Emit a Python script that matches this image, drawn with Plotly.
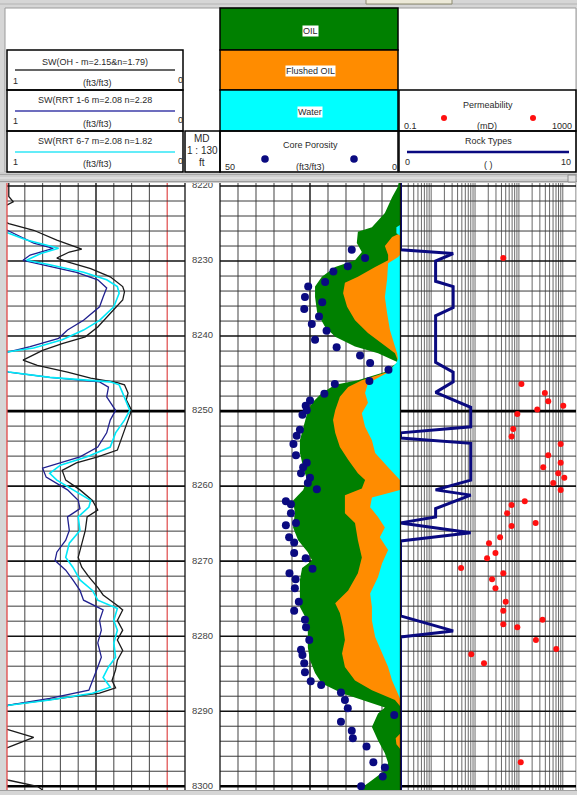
import plotly.graph_objects as go

W, H = 577, 795
DEPTH_TOP, DEPTH_BASE = 8219.6, 8300.5
FONT = "Liberation Sans, Arial, sans-serif"

# ---------------- Track 1: water saturation (ft3/ft3) ----------------
sw_oh_depth = [8219.6, 8221.4, 8222.1, 8222.9, 8224.6, 8225.0, 8225.9, 8227.2, 8228.4, 8228.8,
               8229.6, 8230.1, 8231.0, 8232.1, 8233.4, 8234.1, 8235.2, 8237.0, 8238.8, 8240.1,
               8241.0, 8241.9, 8243.2, 8243.9, 8244.8, 8245.6, 8246.2, 8246.5, 8247.6, 8248.5,
               8249.9, 8251.2, 8252.5, 8254.3, 8255.2, 8256.1, 8256.9, 8257.9, 8259.2, 8260.5,
               8261.9, 8263.2, 8264.1, 8265.9, 8267.6, 8269.5, 8270.8, 8272.1, 8273.5, 8274.5,
               8275.9, 8276.5, 8277.9, 8279.2, 8280.5, 8281.9, 8283.2, 8284.5, 8285.9, 8286.9,
               8287.6, 8288.5, 8289.2, 8289.5, 8292.2, 8292.5, 8293.5, 8294.8, 8295.1, 8298.9,
               8299.2, 8300.0, 8300.5]
sw_oh = [0.99, 0.99, 0.965, 1.03, 1.03, 0.99, 0.85, 0.72, 0.58, 0.65,
         0.72, 0.66, 0.53, 0.42, 0.35, 0.34, 0.35, 0.42, 0.49, 0.56,
         0.69, 0.80, 0.91, 0.83, 0.66, 0.53, 0.38, 0.34, 0.32, 0.33,
         0.30, 0.32, 0.34, 0.37, 0.38, 0.49, 0.61, 0.69, 0.67, 0.59,
         0.52, 0.49, 0.55, 0.56, 0.58, 0.60, 0.58, 0.54, 0.49, 0.46,
         0.38, 0.35, 0.38, 0.35, 0.38, 0.35, 0.38, 0.39, 0.41, 0.39,
         0.48, 0.76, 0.99, 1.03, 1.03, 0.99, 0.85, 0.99, 1.03, 1.03,
         0.99, 0.83, 0.80]

sw_rrt16_depth = [8219.6, 8225.6, 8226.0, 8227.6, 8228.3, 8229.2, 8229.9, 8230.5, 8231.5, 8232.5,
                  8233.6, 8234.8, 8236.1, 8237.9, 8239.2, 8240.3, 8241.4, 8242.1, 8242.4, 8244.5,
                  8244.8, 8245.5, 8246.1, 8246.8, 8248.1, 8249.9, 8251.2, 8252.9, 8254.8, 8256.1,
                  8256.9, 8257.6, 8258.8, 8260.5, 8261.9, 8263.0, 8264.1, 8265.9, 8267.2, 8268.8,
                  8269.9, 8271.2, 8272.5, 8273.9, 8275.2, 8276.1, 8276.5, 8277.9, 8279.2, 8280.9,
                  8282.8, 8284.1, 8285.9, 8287.2, 8288.3, 8289.2, 8289.5, 8300.5]
sw_rrt16 = [1.03, 1.03, 0.99, 0.85, 0.74, 0.87, 0.91, 0.80, 0.61, 0.49,
            0.44, 0.46, 0.48, 0.57, 0.66, 0.71, 0.87, 0.99, 1.03, 1.03,
            0.99, 0.76, 0.48, 0.43, 0.44, 0.39, 0.42, 0.44, 0.49, 0.59,
            0.70, 0.80, 0.78, 0.66, 0.60, 0.59, 0.66, 0.65, 0.67, 0.72,
            0.73, 0.67, 0.63, 0.59, 0.57, 0.49, 0.46, 0.48, 0.47, 0.49,
            0.47, 0.49, 0.52, 0.54, 0.76, 0.99, 1.03, 1.03]

sw_rrt67_depth = [8219.6, 8226.0, 8226.3, 8227.2, 8228.3, 8229.0, 8229.9, 8230.5, 8231.5, 8232.5,
                  8233.4, 8234.3, 8236.1, 8237.9, 8239.2, 8240.5, 8241.6, 8242.1, 8242.4, 8244.5,
                  8244.8, 8245.5, 8246.1, 8246.5, 8247.6, 8249.9, 8251.2, 8252.9, 8254.8, 8256.1,
                  8257.2, 8258.3, 8259.2, 8260.5, 8261.9, 8262.8, 8264.1, 8265.9, 8267.6, 8269.5,
                  8270.8, 8272.5, 8273.9, 8275.2, 8276.3, 8277.9, 8279.2, 8280.9, 8282.8, 8284.1,
                  8285.5, 8286.8, 8287.6, 8288.5, 8289.2, 8289.5, 8300.5]
sw_rrt67 = [1.03, 1.03, 0.99, 0.89, 0.71, 0.81, 0.89, 0.76, 0.57, 0.44,
            0.38, 0.37, 0.40, 0.48, 0.57, 0.69, 0.85, 0.99, 1.03, 1.03,
            0.99, 0.76, 0.42, 0.37, 0.35, 0.31, 0.34, 0.39, 0.42, 0.55,
            0.70, 0.76, 0.72, 0.63, 0.53, 0.54, 0.60, 0.59, 0.65, 0.67,
            0.63, 0.59, 0.52, 0.49, 0.38, 0.40, 0.38, 0.40, 0.39, 0.43,
            0.46, 0.42, 0.52, 0.76, 0.99, 1.03, 1.03]

# ---------------- Track 3: fluid volumes and core porosity ----------------
phie_depth = [8219.6, 8220.1, 8221.5, 8222.8, 8223.6, 8225.5, 8226.1, 8227.6, 8228.8, 8229.9,
              8230.8, 8232.1, 8233.4, 8234.8, 8236.9, 8238.8, 8240.1, 8241.4, 8242.3, 8243.5,
              8244.8, 8245.9, 8246.5, 8247.6, 8248.9, 8250.3, 8252.1, 8253.9, 8255.6, 8257.5,
              8259.2, 8260.5, 8261.9, 8263.6, 8265.5, 8267.2, 8268.8, 8269.9, 8270.9, 8272.5,
              8274.3, 8276.1, 8277.9, 8279.6, 8281.5, 8283.2, 8284.9, 8286.3, 8287.6, 8288.8,
              8289.5, 8290.3, 8292.1, 8293.9, 8295.6, 8296.9, 8297.9, 8299.2, 8300.5]
phie = [0.004, 0.006, 0.022, 0.033, 0.042, 0.078, 0.117, 0.120, 0.106, 0.125,
        0.180, 0.217, 0.236, 0.236, 0.230, 0.208, 0.180, 0.125, 0.061, 0.006,
        0.042, 0.117, 0.180, 0.217, 0.244, 0.258, 0.269, 0.278, 0.278, 0.269,
        0.258, 0.269, 0.297, 0.292, 0.297, 0.283, 0.256, 0.244, 0.272, 0.278,
        0.278, 0.278, 0.258, 0.256, 0.256, 0.250, 0.236, 0.217, 0.161, 0.089,
        0.042, 0.061, 0.078, 0.061, 0.042, 0.033, 0.042, 0.078, 0.115]

bvxo_depth = [8219.6, 8226.3, 8226.8, 8228.0, 8229.2, 8229.9, 8230.8, 8232.1, 8232.9, 8234.3,
              8236.1, 8237.9, 8239.6, 8241.0, 8242.3, 8243.5, 8244.8, 8245.9, 8246.8, 8248.1,
              8249.9, 8251.2, 8252.9, 8254.8, 8256.5, 8258.3, 8259.2, 8260.3, 8261.2, 8263.6,
              8264.9, 8267.2, 8269.5, 8271.6, 8273.9, 8275.6, 8276.9, 8278.8, 8280.5, 8282.3,
              8284.1, 8285.9, 8287.2, 8288.5, 8289.3, 8293.0, 8293.6, 8294.4, 8295.0, 8300.5]
bvxo = [0.0, 0.0, 0.022, 0.042, 0.033, 0.033, 0.069, 0.117, 0.153, 0.158,
        0.147, 0.125, 0.089, 0.050, 0.014, 0.004, 0.035, 0.106, 0.144, 0.167,
        0.180, 0.186, 0.180, 0.167, 0.144, 0.117, 0.097, 0.106, 0.153, 0.153,
        0.125, 0.117, 0.106, 0.117, 0.144, 0.180, 0.167, 0.158, 0.153, 0.161,
        0.153, 0.125, 0.078, 0.014, 0.0, 0.0, 0.012, 0.010, 0.0, 0.0]

bvw_depth = [8219.6, 8225.2, 8225.5, 8226.3, 8226.6, 8229.2, 8229.5, 8230.3, 8232.5, 8234.8,
             8236.9, 8239.2, 8241.4, 8242.3, 8243.0, 8243.6, 8244.9, 8246.3, 8247.6, 8248.9,
             8250.3, 8252.1, 8253.9, 8255.6, 8257.5, 8258.8, 8259.2, 8260.5, 8261.5, 8262.8,
             8264.1, 8265.5, 8266.8, 8268.5, 8270.3, 8272.1, 8274.3, 8276.1, 8277.9, 8280.1,
             8282.3, 8284.1, 8285.9, 8287.6, 8288.3, 8300.5]
bvw = [0.0, 0.0, 0.010, 0.010, 0.0, 0.0, 0.006, 0.033, 0.036, 0.042,
       0.036, 0.028, 0.014, 0.008, 0.006, 0.010, 0.035, 0.089, 0.097, 0.089,
       0.106, 0.097, 0.078, 0.069, 0.033, 0.006, 0.0, 0.0, 0.078, 0.083,
       0.061, 0.042, 0.056, 0.033, 0.050, 0.061, 0.083, 0.078, 0.078, 0.069,
       0.050, 0.033, 0.022, 0.006, 0.0, 0.0]

core_depth = [8228.5, 8229.6, 8230.7, 8231.4, 8232.8, 8233.4, 8234.8, 8235.5, 8236.4, 8237.4,
              8238.4, 8239.3, 8240.5, 8241.5, 8242.6, 8243.6, 8244.5, 8246.0, 8246.4, 8247.7,
              8248.6, 8249.3, 8249.9, 8250.5, 8252.5, 8253.3, 8254.4, 8255.9, 8256.9, 8257.5,
              8258.3, 8258.9, 8259.6, 8260.4, 8262.0, 8262.4, 8263.6, 8264.9, 8265.2, 8266.8,
              8267.5, 8268.9, 8269.6, 8271.0, 8271.6, 8272.4, 8273.6, 8275.4, 8276.6, 8277.8,
              8278.8, 8280.5, 8281.8, 8282.5, 8283.6, 8284.8, 8286.0, 8286.5, 8287.5, 8288.5,
              8289.6, 8290.5, 8291.4, 8292.6, 8293.6, 8294.7, 8296.8, 8297.5, 8298.7, 8300.0]
core_phi = [0.134, 0.097, 0.145, 0.185, 0.208, 0.255, 0.264, 0.216, 0.266, 0.225,
            0.245, 0.204, 0.236, 0.176, 0.111, 0.083, 0.032, 0.085, 0.181, 0.210,
            0.250, 0.262, 0.259, 0.271, 0.278, 0.287, 0.296, 0.289, 0.259, 0.269,
            0.275, 0.250, 0.256, 0.231, 0.317, 0.303, 0.303, 0.289, 0.317, 0.308,
            0.294, 0.294, 0.262, 0.243, 0.307, 0.290, 0.292, 0.281, 0.294, 0.264,
            0.261, 0.252, 0.275, 0.271, 0.266, 0.264, 0.248, 0.219, 0.164, 0.153,
            0.145, 0.016, 0.164, 0.134, 0.131, 0.093, 0.074, 0.042, 0.048, 0.108]

# ---------------- Track 4: permeability and rock types ----------------
perm_depth = [8229.6, 8246.4, 8247.6, 8248.7, 8249.3, 8249.8, 8250.4, 8252.4, 8253.4, 8254.4,
              8255.9, 8256.9, 8257.5, 8258.3, 8258.9, 8259.6, 8260.5, 8262.0, 8262.5, 8263.6,
              8264.9, 8265.3, 8266.8, 8267.6, 8268.9, 8269.6, 8270.9, 8271.6, 8272.4, 8273.6,
              8275.4, 8276.6, 8277.8, 8278.4, 8278.8, 8280.5, 8281.7, 8282.4, 8283.6, 8296.8]
perm_md = [22, 57, 195, 233, 513, 131, 46, 37, 34, 447,
           233, 447, 179, 394, 541, 303, 447, 68, 34, 27,
           120, 34, 18.6, 10.4, 14.6, 9.4, 2.4, 22, 12.2, 14.6,
           25, 22, 173, 22, 46, 122, 355, 4.1, 8.0, 55]

rock_depth = [8219.6, 8228.5, 8229.0, 8230.0, 8232.7, 8233.4, 8236.2, 8237.3, 8243.5, 8244.8,
              8246.1, 8247.5, 8249.5, 8252.1, 8252.9, 8253.6, 8254.3, 8259.2, 8260.5, 8261.2,
              8263.0, 8264.1, 8264.9, 8266.2, 8267.3, 8277.3, 8279.3, 8280.1, 8300.5]
rock_type = [0, 0, 3, 2, 2, 3, 3, 2, 2, 3,
             3, 2, 4, 4, 0, 0, 4, 4, 2, 4,
             2, 2, 0, 4, 0, 0, 3, 0, 0]

depth_labels = [8220, 8230, 8240, 8250, 8260, 8270, 8280, 8290, 8300]


# ---------------- helpers ----------------
def fx(x):
    return x / W


def fy(y):
    return 1 - y / H


fig = go.Figure()


def seg_trace(xa, xs, ys, color, width):
    fig.add_trace(go.Scatter(x=xs, y=ys, xaxis=xa, yaxis="y", mode="lines",
                             line=dict(color=color, width=width),
                             hoverinfo="skip", showlegend=False))


def depth_grid(xa, x0, x1):
    groups = {"minor": [], "ten": [], "fifty": []}
    for d in range(8220, 8302, 2):
        key = "fifty" if d % 50 == 0 else ("ten" if d % 10 == 0 else "minor")
        groups[key].append(d)
    styles = {"minor": ("#3a3a3a", 1.0), "ten": ("#111111", 1.6), "fifty": ("#000000", 2.6)}
    for key, depths in groups.items():
        xs, ys = [], []
        for d in depths:
            xs += [x0, x1, None]
            ys += [d, d, None]
        seg_trace(xa, xs, ys, *styles[key])


def vert_grid(xa, values, color, width):
    xs, ys = [], []
    for v in values:
        xs += [v, v, None]
        ys += [DEPTH_TOP, DEPTH_BASE, None]
    seg_trace(xa, xs, ys, color, width)


# track 1 grid: saturation 1 -> 0
vert_grid("x", [0.2, 0.3, 0.4, 0.6, 0.7, 0.8, 0.9], "#555555", 1.1)
vert_grid("x", [0.5], "#111111", 1.4)
vert_grid("x", [0.1], "#e04848", 1.2)
depth_grid("x", 1.0, 0.0)

# track 3 grid: 0.5 -> 0
vert_grid("x3", [0.45, 0.40, 0.35, 0.30, 0.20, 0.15, 0.10, 0.05], "#555555", 1.1)
vert_grid("x3", [0.25], "#111111", 1.4)
depth_grid("x3", 0.5, 0.0)

# track 4 grid: logarithmic cycles
log_lines = []
for n in range(-1, 4):
    for m in range(1, 10):
        k = m * 10 ** n / 2
        if 0.1 <= k <= 1000:
            log_lines.append(k)
vert_grid("x4", log_lines, "#6a6a6a", 1.0)
depth_grid("x4", 0.1, 1000)

# fluid volumes (filled towards zero on the right)
for xs, ds, col in [(phie, phie_depth, "#008000"),
                    (bvxo, bvxo_depth, "#ff8c00"),
                    (bvw, bvw_depth, "#00ffff")]:
    fig.add_trace(go.Scatter(x=xs, y=ds, xaxis="x3", yaxis="y", mode="lines",
                             line=dict(width=0, color=col), fill="tozerox",
                             fillcolor=col, hoverinfo="skip", showlegend=False))

fig.add_trace(go.Scatter(x=core_phi, y=core_depth, xaxis="x3", yaxis="y", mode="markers",
                         marker=dict(color="#0a0a80", size=8), cliponaxis=True,
                         hoverinfo="skip", showlegend=False))

# saturation curves
for xs, ds, col, wd in [(sw_oh, sw_oh_depth, "#1a1a1a", 1.3),
                        (sw_rrt16, sw_rrt16_depth, "#20208f", 1.3),
                        (sw_rrt67, sw_rrt67_depth, "#00e8f8", 1.6)]:
    fig.add_trace(go.Scatter(x=xs, y=ds, xaxis="x", yaxis="y", mode="lines",
                             line=dict(color=col, width=wd), hoverinfo="skip",
                             showlegend=False))

# rock types and permeability
fig.add_trace(go.Scatter(x=rock_type, y=rock_depth, xaxis="x5", yaxis="y", mode="lines",
                         line=dict(color="#0a0a80", width=3), hoverinfo="skip",
                         showlegend=False))
fig.add_trace(go.Scatter(x=perm_md, y=perm_depth, xaxis="x4", yaxis="y", mode="markers",
                         marker=dict(color="#ff1010", size=6), cliponaxis=True,
                         hoverinfo="skip", showlegend=False))

# depth labels
fig.add_trace(go.Scatter(x=[0.5] * len(depth_labels), y=depth_labels, xaxis="x2", yaxis="y",
                         mode="text", text=[str(d) for d in depth_labels],
                         textfont=dict(family=FONT, size=9.5, color="#444444"),
                         cliponaxis=True, hoverinfo="skip", showlegend=False))

# ---------------- axes ----------------
y_dom = [fy(790), fy(183)]
hidden = dict(visible=False, showgrid=False, zeroline=False, fixedrange=True)
fig.update_layout(
    width=W, height=H, margin=dict(l=0, r=0, t=0, b=0),
    paper_bgcolor="#d6d6d6", plot_bgcolor="#ffffff", showlegend=False,
    yaxis=dict(domain=y_dom, range=[DEPTH_BASE, DEPTH_TOP], anchor="x", **hidden),
    xaxis=dict(domain=[fx(7), fx(185)], range=[1, 0], anchor="y", **hidden),
    xaxis2=dict(domain=[fx(185), fx(220)], range=[0, 1], anchor="y", **hidden),
    xaxis3=dict(domain=[fx(220), fx(400)], range=[0.5, 0], anchor="y", **hidden),
    xaxis4=dict(domain=[fx(400.5), fx(576)], type="log", range=[-1, 3], anchor="y", **hidden),
    xaxis5=dict(overlaying="x4", range=[0, 10], anchor="y", **hidden),
)

shapes = []


def rect(x0, y0, x1, y1, fill=None, line="#000000", lw=1.5, layer="above"):
    shapes.append(dict(type="rect", xref="paper", yref="paper",
                       x0=fx(x0), x1=fx(x1), y0=fy(y1), y1=fy(y0),
                       fillcolor=fill if fill else "rgba(0,0,0,0)",
                       line=dict(color=line, width=lw), layer=layer))


def line(x0, y0, x1, y1, color="#000000", lw=1.5, layer="above"):
    shapes.append(dict(type="line", xref="paper", yref="paper",
                       x0=fx(x0), x1=fx(x1), y0=fy(y0), y1=fy(y1),
                       line=dict(color=color, width=lw), layer=layer))


def dot(x, y, r, color):
    shapes.append(dict(type="circle", xref="paper", yref="paper",
                       x0=fx(x - r), x1=fx(x + r), y0=fy(y + r), y1=fy(y - r),
                       fillcolor=color, line=dict(width=0), layer="above"))


# window chrome
line(0, 4, 577, 4, "#b4b4b4", 1)
rect(366, -1, 452, 4, fill="#ece9d8", line="#8c8a70", lw=1)
rect(5, 8, 576, 172, fill="#ffffff", line="#9a9a9a", lw=1, layer="below")
rect(0, 172, 577, 183, fill="#cdcdcd", line="#cdcdcd", lw=0, layer="below")
line(0, 174.5, 577, 174.5, "#a6a6a6", 1)
line(0, 178, 577, 178, "#ececec", 1)
line(0, 181.5, 577, 181.5, "#9c9c9c", 1)
rect(568, 175, 576, 182, fill="#e2e2e2", line="#8a8a8a", lw=1)

# header boxes
rect(7, 50, 183, 90)
rect(7, 90, 183, 131)
rect(7, 131, 183, 172)
rect(185, 131, 220, 172)
rect(220, 8, 398, 50, fill="#008000")
rect(220, 50, 398, 90, fill="#ff8c00")
rect(220, 90, 398, 131, fill="#00ffff")
rect(220, 131, 398, 172)
rect(399, 90, 576, 131)
rect(399, 131, 576, 172)

# legend samples
line(15, 70, 175, 70, "#333333", 1.6)
line(15, 111, 175, 111, "#3c3ca8", 1.6)
line(15, 152, 175, 152, "#30e6f6", 1.6)
line(407, 152, 569, 152, "#0a0a80", 2.6)
dot(265, 159, 3.8, "#0a0a80")
dot(354, 159, 3.8, "#0a0a80")
dot(444, 118, 3, "#ff1010")
dot(533, 118, 3, "#ff1010")

# track borders in the log area
line(7, 183, 7, 790, "#e04848", 1.3)
line(185, 183, 185, 790, "#111111", 1.3)
line(220, 183, 220, 790, "#111111", 1.3)
line(400.5, 183, 400.5, 790, "#111111", 1.3)
line(0, 790.5, 577, 790.5, "#a0a0a0", 1)

fig.update_layout(shapes=shapes)


def label(x, y, text, size=9, color="#2a2a2a", bg=None, xanchor="center"):
    fig.add_annotation(x=fx(x), y=fy(y), xref="paper", yref="paper", text=text,
                       showarrow=False, xanchor=xanchor, yanchor="middle",
                       font=dict(family=FONT, size=size, color=color),
                       bgcolor=bg if bg else "rgba(0,0,0,0)", borderpad=0)


label(95, 62, "SW(OH - m=2.15&amp;n=1.79)")
label(12, 81, "1", xanchor="left")
label(180, 80, "0")
label(97, 83, "(ft3/ft3)")
label(95, 100, "SW(RRT 1-6 m=2.08 n=2.28")
label(12, 121, "1", xanchor="left")
label(180, 120, "0")
label(97, 124, "(ft3/ft3)")
label(95, 141, "SW(RRT 6-7 m=2.08 n=1.82")
label(12, 162, "1", xanchor="left")
label(180, 161, "0")
label(97, 164, "(ft3/ft3)")

label(202, 139, "MD", size=10)
label(202, 151, "1 : 130", size=10)
label(202, 163, "ft", size=10)

label(310, 31, "OIL", bg="#ffffff")
label(310, 71, "Flushed OIL", bg="#ffffff")
label(310, 112, "Water", bg="#ffffff")

label(310, 145, "Core Porosity")
label(224, 167, "50", xanchor="left")
label(310, 167, "(ft3/ft3)")
label(394, 167, "0")

label(488, 105, "Permeability")
label(403, 126, "0.1", xanchor="left")
label(487, 126, "(mD)")
label(573, 126, "1000", xanchor="right")

label(488, 141, "Rock Types")
label(404, 162, "0", xanchor="left")
label(488, 165, "( )")
label(572, 162, "10", xanchor="right")

fig.write_html("out.html")
